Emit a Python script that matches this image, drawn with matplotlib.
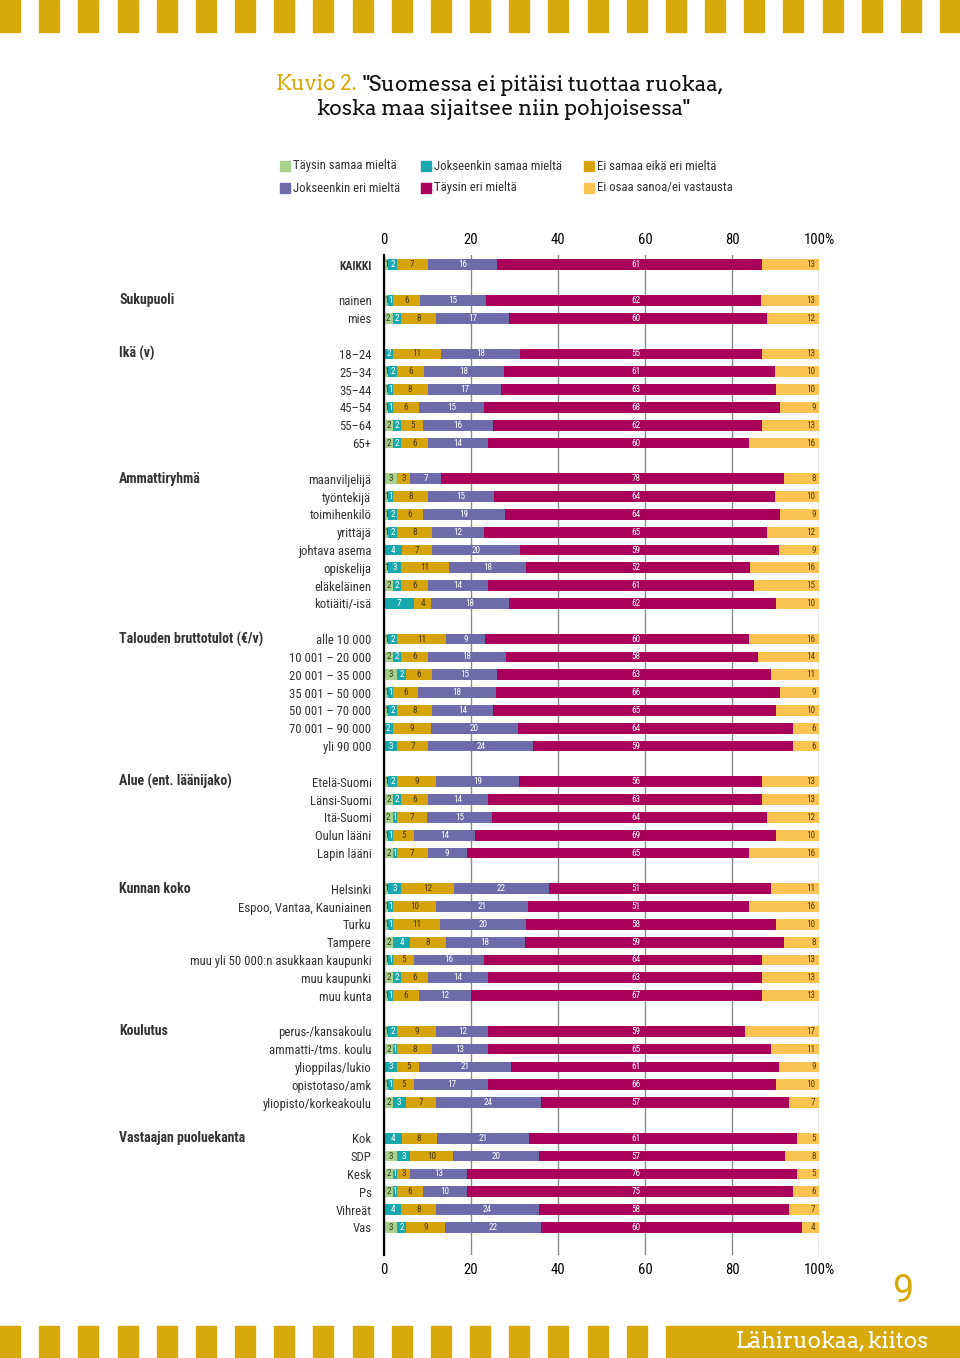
import matplotlib
matplotlib.use("Agg")
import matplotlib.pyplot as plt
import numpy as np
from matplotlib.patches import Rectangle

# Figure size in pixels
W, H = 960, 1358

# Response categories (stack order left -> right)
series = ["Täysin samaa mieltä", "Jokseenkin samaa mieltä", "Ei samaa eikä eri mieltä",
          "Jokseenkin eri mieltä", "Täysin eri mieltä", "Ei osaa sanoa/ei vastausta"]
colors = ["#a9d18e", "#19a8ad", "#d6a30b", "#6d6ca9", "#a8005b", "#fac352"]
text_colors = ["#3a3a1a", "white", "#4a3a00", "white", "white", "#5a4000"]

# Data (%), one list per row: [täysin samaa, jokseenkin samaa, ei samaa eikä eri, jokseenkin eri, täysin eri, eos]
kaikki_labels = ["KAIKKI"]
kaikki_vals = [[1, 2, 7, 16, 61, 13]]

sukupuoli_labels = ["nainen", "mies"]
sukupuoli_vals = [[1, 1, 6, 15, 62, 13],
                  [2, 2, 8, 17, 60, 12]]

ika_labels = ["18–24", "25–34", "35–44", "45–54", "55–64", "65+"]
ika_vals = [[0, 2, 11, 18, 55, 13],
            [1, 2, 6, 18, 61, 10],
            [1, 1, 8, 17, 63, 10],
            [1, 1, 6, 15, 68, 9],
            [2, 2, 5, 16, 62, 13],
            [2, 2, 6, 14, 60, 16]]

ammatti_labels = ["maanviljelijä", "työntekijä", "toimihenkilö", "yrittäjä",
                  "johtava asema", "opiskelija", "eläkeläinen", "kotiäiti/-isä"]
ammatti_vals = [[3, 0, 3, 7, 78, 8],
                [1, 1, 8, 15, 64, 10],
                [1, 2, 6, 19, 64, 9],
                [1, 2, 8, 12, 65, 12],
                [0, 4, 7, 20, 59, 9],
                [1, 3, 11, 18, 52, 16],
                [2, 2, 6, 14, 61, 15],
                [0, 7, 4, 18, 62, 10]]

tulot_labels = ["alle 10 000", "10 001 – 20 000", "20 001 – 35 000", "35 001 – 50 000",
                "50 001 – 70 000", "70 001 – 90 000", "yli 90 000"]
tulot_vals = [[1, 2, 11, 9, 60, 16],
              [2, 2, 6, 18, 58, 14],
              [3, 2, 6, 15, 63, 11],
              [1, 1, 6, 18, 66, 9],
              [1, 2, 8, 14, 65, 10],
              [0, 2, 9, 20, 64, 6],
              [0, 3, 7, 24, 59, 6]]

alue_labels = ["Etelä-Suomi", "Länsi-Suomi", "Itä-Suomi", "Oulun lääni", "Lapin lääni"]
alue_vals = [[1, 2, 9, 19, 56, 13],
             [2, 2, 6, 14, 63, 13],
             [2, 1, 7, 15, 64, 12],
             [1, 1, 5, 14, 69, 10],
             [2, 1, 7, 9, 65, 16]]

kunta_labels = ["Helsinki", "Espoo, Vantaa, Kauniainen", "Turku", "Tampere",
                "muu yli 50 000:n asukkaan kaupunki", "muu kaupunki", "muu kunta"]
kunta_vals = [[1, 3, 12, 22, 51, 11],
              [1, 1, 10, 21, 51, 16],
              [1, 1, 11, 20, 58, 10],
              [2, 4, 8, 18, 59, 8],
              [1, 1, 5, 16, 64, 13],
              [2, 2, 6, 14, 63, 13],
              [1, 1, 6, 12, 67, 13]]

koulutus_labels = ["perus-/kansakoulu", "ammatti-/tms. koulu", "ylioppilas/lukio",
                   "opistotaso/amk", "yliopisto/korkeakoulu"]
koulutus_vals = [[1, 2, 9, 12, 59, 17],
                 [2, 1, 8, 13, 65, 11],
                 [0, 3, 5, 21, 61, 9],
                 [1, 1, 5, 17, 66, 10],
                 [2, 3, 7, 24, 57, 7]]

puolue_labels = ["Kok", "SDP", "Kesk", "Ps", "Vihreät", "Vas"]
puolue_vals = [[0, 4, 8, 21, 61, 5],
               [3, 3, 10, 20, 57, 8],
               [2, 1, 3, 13, 76, 5],
               [2, 1, 6, 10, 75, 6],
               [0, 4, 8, 24, 58, 7],
               [3, 2, 9, 22, 60, 4]]

groups = [("", kaikki_labels, kaikki_vals),
          ("Sukupuoli", sukupuoli_labels, sukupuoli_vals),
          ("Ikä (v)", ika_labels, ika_vals),
          ("Ammattiryhmä", ammatti_labels, ammatti_vals),
          ("Talouden bruttotulot (€/v)", tulot_labels, tulot_vals),
          ("Alue (ent. läänijako)", alue_labels, alue_vals),
          ("Kunnan koko", kunta_labels, kunta_vals),
          ("Koulutus", koulutus_labels, koulutus_vals),
          ("Vastaajan puoluekanta", puolue_labels, puolue_vals)]

NARROW = ["Roboto Condensed", "Archivo Narrow", "DejaVu Sans"]
SERIF = ["Arvo", "Roboto Slab", "DejaVu Serif"]
GOLD = "#d8a90b"

# build row positions: one empty slot between groups
ys, row_labels, vals, group_pos = [], [], [], []
slot = 0
for gname, labels, v in groups:
    group_pos.append((gname, slot))
    for lab, row in zip(labels, v):
        ys.append(slot)
        row_labels.append(lab)
        vals.append(row)
        slot += 1
    slot += 1
ys = np.array(ys, dtype=float)
vals = np.array(vals, dtype=float)
widths = vals / vals.sum(axis=1, keepdims=True) * 100
lefts = np.cumsum(widths, axis=1) - widths

fig = plt.figure(figsize=(W / 100, H / 100), dpi=100)
ax = fig.add_axes([384 / W, 1 - 1255 / H, 435 / W, 1000 / H])

for j in range(len(series)):
    ax.barh(ys, widths[:, j], left=lefts[:, j], height=0.6, color=colors[j],
            label=series[j], zorder=2)

for i, y in enumerate(ys):
    for j in range(len(series)):
        v = int(vals[i, j])
        if v == 0:
            continue
        if j == 4:
            x, ha = 58.0, "center"
        elif j == 5:
            x, ha = 99.2, "right"
        else:
            x, ha = lefts[i, j] + widths[i, j] / 2, "center"
        ax.text(x, y, str(v), ha=ha, va="center", fontsize=6.6, family=NARROW,
                color=text_colors[j], zorder=3)

ax.set_xlim(0, 100)
ax.set_ylim(slot - 1 + 0.55, -0.55)
ax.set_xticks([0, 20, 40, 60, 80, 100])
ax.set_xticklabels(["0", "20", "40", "60", "80", "100%"])
ax.tick_params(axis="x", length=0, top=False, labeltop=True, pad=6, labelsize=10.5)
for tk in ax.xaxis.get_major_ticks():
    tk.label1.set_family(NARROW)
    tk.label2.set_family(NARROW)
ax.set_yticks(ys)
ax.set_yticklabels(row_labels)
ax.tick_params(axis="y", length=0, pad=9, labelsize=9.2)
for t in ax.get_yticklabels():
    t.set_family(NARROW)
    t.set_color("#333333")
    if t.get_text() == "KAIKKI":
        t.set_fontweight("bold")
        t.set_fontsize(8.5)

ax.grid(axis="x", color="#8a8a8a", linewidth=1.0, zorder=0)
ax.set_axisbelow(True)
for s in ["top", "right", "bottom"]:
    ax.spines[s].set_visible(False)
ax.spines["left"].set_color("black")
ax.spines["left"].set_linewidth(1.6)
ax.spines["left"].set_zorder(4)

# group headings
for gname, pos in group_pos:
    if gname:
        ax.text((119 - 384) / 435, pos, gname, transform=ax.get_yaxis_transform(),
                ha="left", va="center", fontsize=10, fontweight="bold", family=NARROW,
                color="#333333")

# title: two-colour first line, sized to the reference width
fig.canvas.draw()
r = fig.canvas.get_renderer()
gap = 6
t_a = fig.text(0, 1 - 85 / H, "Kuvio 2.", color=GOLD, fontsize=14, family=SERIF,
               fontweight="medium", va="center")
t_b = fig.text(0, 1 - 85 / H, '"Suomessa ei pitäisi tuottaa ruokaa,', color="#111111",
               fontsize=14, family=SERIF, fontweight="medium", va="center")
t_c = fig.text(503 / W, 1 - 109 / H, 'koska maa sijaitsee niin pohjoisessa"', color="#111111",
               fontsize=14, family=SERIF, fontweight="medium", ha="center", va="center")
scale = (448 - gap) / (t_a.get_window_extent(r).width + t_b.get_window_extent(r).width)
for t in (t_a, t_b, t_c):
    t.set_fontsize(14 * scale)
wa = t_a.get_window_extent(r).width
wb = t_b.get_window_extent(r).width
x0 = 500 - (wa + gap + wb) / 2
t_a.set_x(x0 / W)
t_b.set_x((x0 + wa + gap) / W)

# legend
leg_x = [285, 426, 589]
leg_y = [166, 188]
order = [(0, 0), (1, 0), (2, 0), (0, 1), (1, 1), (2, 1)]
for j, (c, rw) in enumerate(order):
    x, y = leg_x[c], leg_y[rw]
    fig.patches.append(Rectangle(((x - 5) / W, 1 - (y + 5) / H), 10 / W, 10 / H,
                                 transform=fig.transFigure, color=colors[j]))
    fig.text((x + 8) / W, 1 - y / H, series[j], fontsize=9.2, family=NARROW,
             color="#333333", va="center", ha="left")

# decorative stripes
period = 940 / 24
for k in range(25):
    fig.patches.append(Rectangle((k * period / W, 1 - 32 / H), 20 / W, 32 / H,
                                 transform=fig.transFigure, color=GOLD))
for k in range(17):
    fig.patches.append(Rectangle((k * period / W, 0), 20 / W, 32 / H,
                                 transform=fig.transFigure, color=GOLD))
fig.patches.append(Rectangle((666 / W, 0), (W - 666) / W, 32 / H,
                             transform=fig.transFigure, color=GOLD))
t_f = fig.text(832 / W, 1 - 1341 / H, "Lähiruokaa, kiitos", color="white", fontsize=14,
               family=SERIF, fontweight="medium", ha="center", va="center")
t_f.set_fontsize(14 * 193 / t_f.get_window_extent(r).width)
fig.text(903 / W, 1 - 1291 / H, "9", color=GOLD, fontsize=27, family=["Roboto", "DejaVu Sans"],
         fontweight="normal", ha="center", va="center")

fig.savefig("out.png", dpi=100)
